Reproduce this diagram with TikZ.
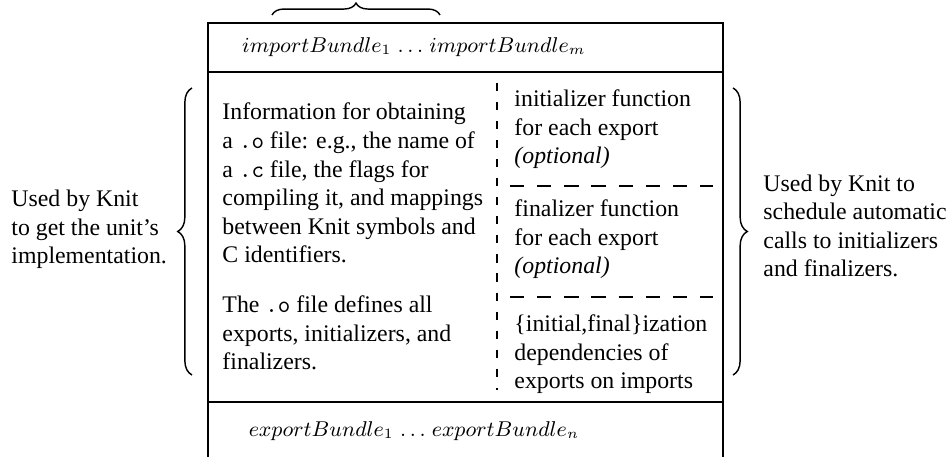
\documentclass[tikz,border=0pt]{standalone}
\usepackage{fontspec}
\setmainfont{Liberation Serif}
\usetikzlibrary{decorations.pathreplacing}
\begin{document}
\begin{tikzpicture}[x=0.42pt,y=-0.42pt,
  boxline/.style={line width=0.8pt},
  dashv/.style={line width=0.8pt, dash pattern=on 3.4pt off 4.6pt},
  dashh/.style={line width=0.8pt, dash pattern=on 6pt off 5.4pt},
  bracestyle/.style={decorate, decoration={brace, amplitude=#1}, line width=0.6pt},
  txt/.style={inner sep=0pt, align=left, anchor=base west, font=\fontsize{10pt}{12pt}\selectfont},
  mathtxt/.style={inner sep=0pt, anchor=center, font=\fontsize{9pt}{11pt}\selectfont},
  ]
\useasboundingbox (0,0) rectangle (949,457);
% box frame
\coordinate (tl) at (208,23);
\coordinate (tr) at (723,23);
\coordinate (bl) at (208,457);
\coordinate (br) at (723,457);
\coordinate (ml1) at (208,72);
\coordinate (mr1) at (723,72);
\coordinate (ml2) at (208,402);
\coordinate (mr2) at (723,402);
\draw[boxline] (bl) -- (tl) -- (tr) -- (br);
\draw[boxline] (ml1) -- (mr1);
\draw[boxline] (ml2) -- (mr2);
% dashed separators
\coordinate (dvt) at (497,83);
\coordinate (dvb) at (497,390);
\coordinate (dh1a) at (510,186);
\coordinate (dh1b) at (713,186);
\coordinate (dh2a) at (510,297);
\coordinate (dh2b) at (713,297);
\draw[dashv] (dvt) -- (dvb);
\draw[dashh] (dh1a) -- (dh1b);
\draw[dashh] (dh2a) -- (dh2b);
% braces
\coordinate (lbb) at (192,375);
\coordinate (lbt) at (192,88);
\coordinate (rbt) at (733,88);
\coordinate (rbb) at (733,375);
\coordinate (tbl) at (272,15);
\coordinate (tbr) at (440,15);
\draw[bracestyle=6pt] (lbb) -- (lbt);
\draw[bracestyle=6pt] (rbt) -- (rbb);
\draw[bracestyle=5pt] (tbl) -- (tbr);
% texts (anchored at the baseline of the last line)
\node[mathtxt] (imp) at (414,47) {$importBundle_1 \mathrel{\ldots} importBundle_m$};
\node[mathtxt] (exp) at (414,431) {$exportBundle_1 \mathrel{\ldots} exportBundle_n$};
\node[txt] (impl) at (222,370) {Information for obtaining\\
a \texttt{.o} file: e.g., the name of\\
a \texttt{.c} file, the flags for\\
compiling it, and mappings\\
between Knit symbols and\\
C identifiers.\\[9pt]
The \texttt{.o} file defines all\\
exports, initializers, and\\
finalizers.};
\node[txt] (init) at (514,164) {initializer function\\ for each export\\ \textit{(optional)}};
\node[txt] (fin) at (514,274) {finalizer function\\ for each export\\ \textit{(optional)}};
\node[txt] (dep) at (514,389) {\{initial,final\}ization\\ dependencies of\\ exports on imports};
\node[txt] (lefttxt) at (11,264) {Used by Knit\\ to get the unit's\\ implementation.};
\node[txt] (righttxt) at (763,277) {Used by Knit to\\ schedule automatic\\ calls to initializers\\ and finalizers.};
\end{tikzpicture}
\end{document}
